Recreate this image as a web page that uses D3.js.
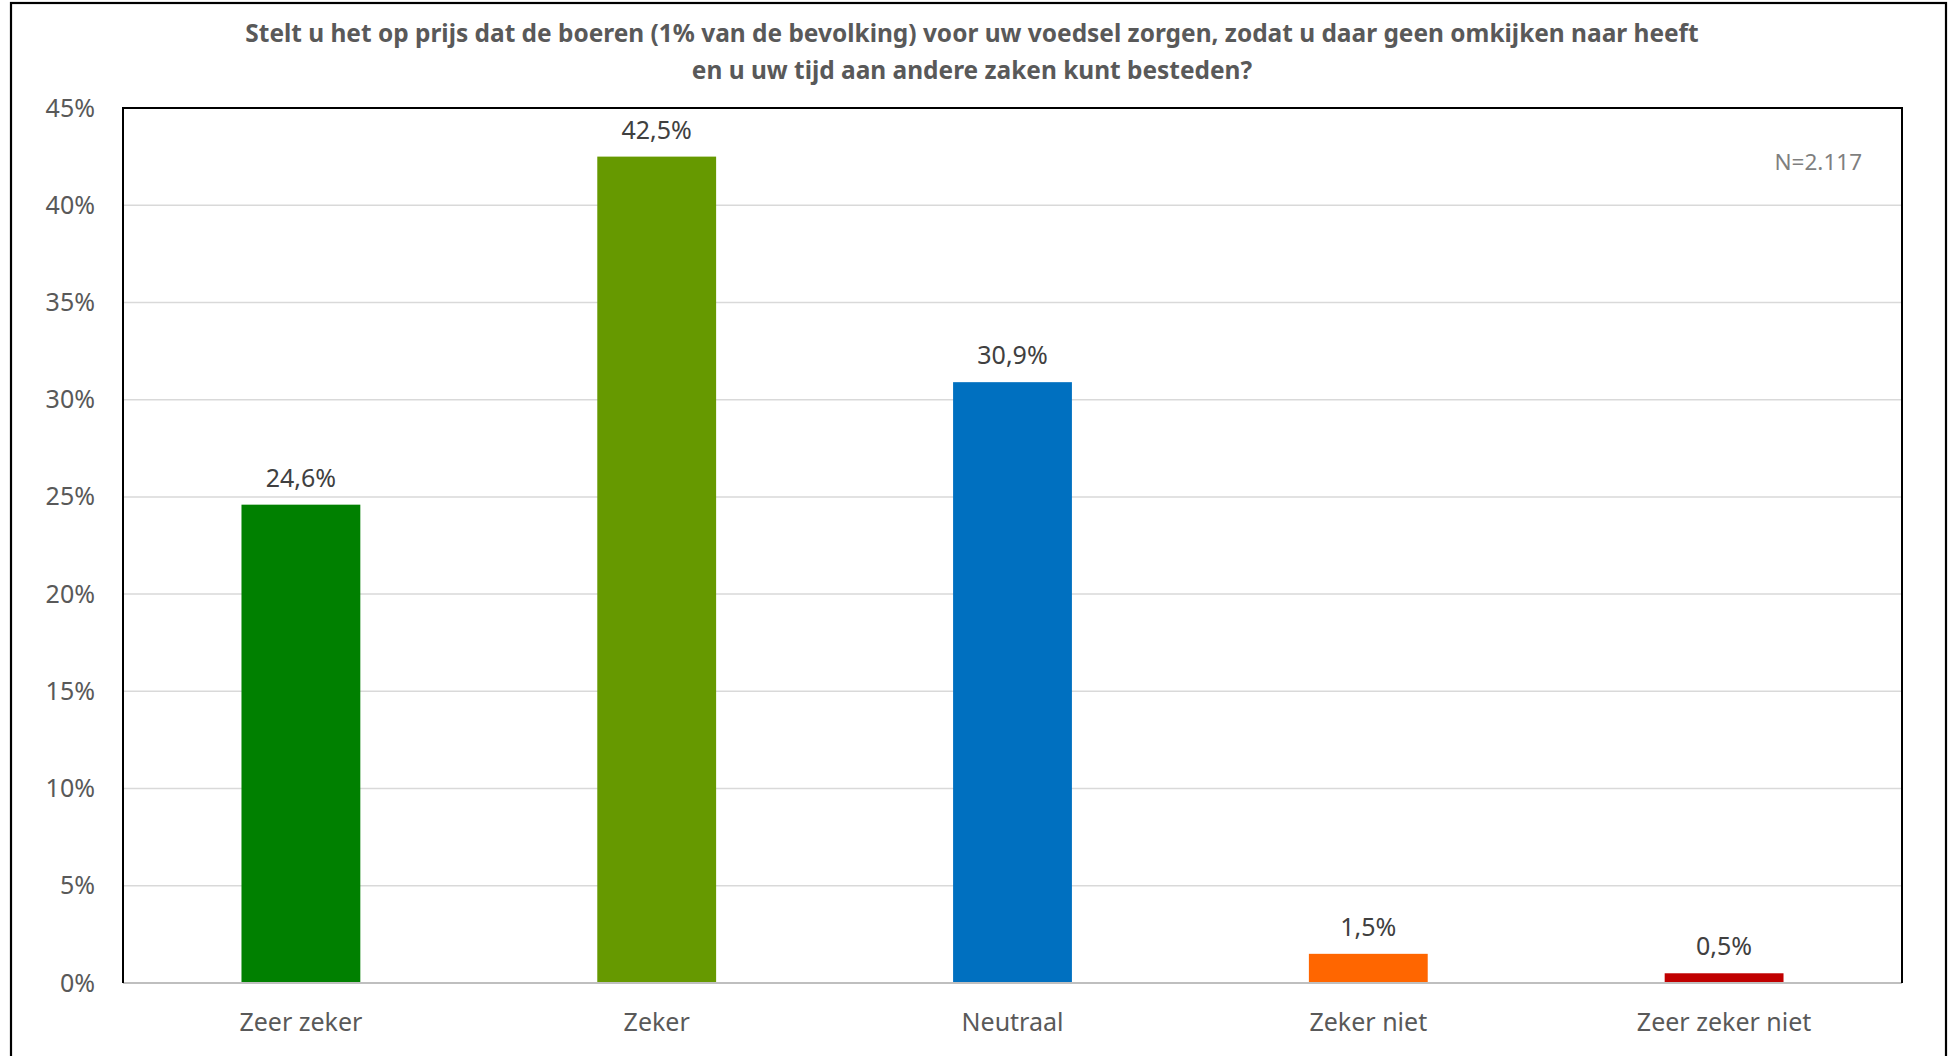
<!DOCTYPE html>
<html><head><meta charset="utf-8">
<script src="https://cdn.jsdelivr.net/npm/d3@7"></script>
<style>
html,body{margin:0;padding:0;background:#fff;}
svg{display:block;}
text{font-family:"Noto Sans","Open Sans",sans-serif;}
</style></head>
<body>
<script>
const titleLines = [
  "Stelt u het op prijs dat de boeren (1% van de bevolking) voor uw voedsel zorgen, zodat u daar geen omkijken naar heeft",
  "en u uw tijd aan andere zaken kunt besteden?"
];
const categories = ["Zeer zeker", "Zeker", "Neutraal", "Zeker niet", "Zeer zeker niet"];
const values = [24.6, 42.5, 30.9, 1.5, 0.5];
const valueLabels = ["24,6%", "42,5%", "30,9%", "1,5%", "0,5%"];
const colors = ["#008000", "#669900", "#0070C0", "#FF6600", "#C00000"];
const yTicks = [0, 5, 10, 15, 20, 25, 30, 35, 40, 45];
const note = "N=2.117";

const W = 1948, H = 1056;
const plot = {left: 123, top: 108, right: 1902, bottom: 983};

const svg = d3.select("body").append("svg").attr("width", W).attr("height", H);

// outer frame
svg.append("rect").attr("x", 11).attr("y", 3).attr("width", 1935).attr("height", 1120)
  .attr("fill", "#fff").attr("stroke", "#000").attr("stroke-width", 2.2);

const x = d3.scaleBand().domain(categories).range([plot.left, plot.right]).paddingInner(0.666).paddingOuter(0.333);
const y = d3.scaleLinear().domain([0, 45]).range([plot.bottom, plot.top]);

// gridlines
svg.append("g").selectAll("line").data(yTicks.filter(d => d > 0 && d < 45)).join("line")
  .attr("x1", plot.left).attr("x2", plot.right)
  .attr("y1", d => y(d)).attr("y2", d => y(d))
  .attr("stroke", "#D9D9D9").attr("stroke-width", 1.5);

// y tick labels
const yAxis = d3.axisLeft(y).tickValues(yTicks).tickFormat(d => d + "%").tickSize(0).tickPadding(28);
const gy = svg.append("g").attr("transform", `translate(${plot.left},0)`).call(yAxis);
gy.select(".domain").remove();
gy.selectAll("text").attr("font-size", 25).attr("fill", "#595959")
  .attr("font-family", "'Noto Sans','Open Sans',sans-serif");

// bars
svg.append("g").selectAll("rect").data(values).join("rect")
  .attr("x", (d, i) => x(categories[i]))
  .attr("width", x.bandwidth())
  .attr("y", d => y(d))
  .attr("height", d => y(0) - y(d))
  .attr("fill", (d, i) => colors[i]);

// value labels
svg.append("g").selectAll("text").data(values).join("text")
  .attr("x", (d, i) => x(categories[i]) + x.bandwidth() / 2)
  .attr("y", d => y(d) - 18)
  .attr("text-anchor", "middle").attr("font-size", 25).attr("fill", "#404040")
  .text((d, i) => valueLabels[i]);

// x axis line
svg.append("line").attr("x1", plot.left).attr("x2", plot.right)
  .attr("y1", y(0)).attr("y2", y(0)).attr("stroke", "#BFBFBF").attr("stroke-width", 2);

// plot frame (top, left, right)
svg.append("path")
  .attr("d", `M${plot.left},${plot.bottom}V${plot.top}H${plot.right}V${plot.bottom}`)
  .attr("fill", "none").attr("stroke", "#000").attr("stroke-width", 2);

// category labels
const xAxis = d3.axisBottom(x).tickSize(0).tickPadding(0);
const gx = svg.append("g").attr("transform", `translate(0,${plot.bottom})`).call(xAxis);
gx.select(".domain").remove();
gx.selectAll("text").attr("font-size", 25).attr("fill", "#595959")
  .attr("font-family", "'Noto Sans','Open Sans',sans-serif")
  .attr("dy", null).attr("y", 48);

// note
svg.append("text").attr("x", 1862).attr("y", 170).attr("text-anchor", "end")
  .attr("font-size", 22.5).attr("fill", "#7F7F7F").text(note);

// title
const tg = svg.append("g");
const tl = tg.selectAll("text").data(titleLines).join("text")
  .attr("x", 972)
  .attr("y", (d, i) => 42 + i * 37)
  .attr("text-anchor", "middle").attr("font-weight", "bold").attr("font-size", 22)
  .attr("fill", "#595959").text(d => d);
const w0 = tl.nodes()[0].getComputedTextLength();
const fs = 22 * 1454 / w0;
tl.attr("font-size", fs);
</script>
</body></html>
